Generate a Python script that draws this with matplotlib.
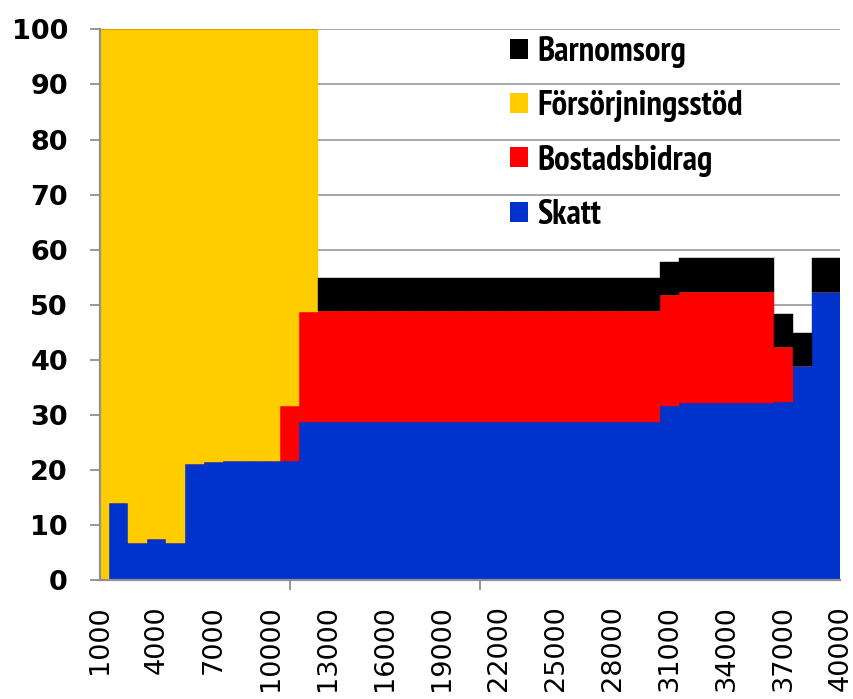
"""
Marginaleffekter: stapeldiagram med skatt, bostadsbidrag, försörjningsstöd och barnomsorg.
"""

import matplotlib
matplotlib.use("Agg")
import matplotlib.pyplot as plt
from matplotlib import font_manager
from matplotlib.patches import Patch

# Inkomst (kr/mån), en kategori per 1000 kr
income = list(range(1000, 40001, 1000))

skatt = ([0, 14.1, 6.7, 7.5, 6.7, 21.0, 21.5, 21.6, 21.7, 21.6, 21.7, 28.7]
         + [28.7] * 18 + [31.6] + [32.2] * 5 + [32.4, 38.9, 52.3, 52.3])
bostadsbidrag = ([0] * 10 + [10.0, 20.0] + [20.1] * 18 + [20.1] + [20.1] * 5
                 + [9.9, 0, 0, 0])
forsorjningsstod = ([100, 85.9, 93.3, 92.5, 93.3, 79.0, 78.5, 78.4, 78.3, 78.4, 68.3, 51.3]
                    + [0] * 28)
barnomsorg = [0] * 12 + [6.1] * 18 + [6.0] + [6.1] * 5 + [6.1, 6.0, 6.1, 6.1]

x_labels = list(range(1000, 40001, 3000))
x_ticks = [1000, 11000, 21000, 31000]

colors = {
    "Skatt": "#0033cc",
    "Bostadsbidrag": "#ff0000",
    "Försörjningsstöd": "#ffcc00",
    "Barnomsorg": "#000000",
}


def legend_font():
    # a narrow bold face if one is installed, otherwise plain bold
    for f in font_manager.fontManager.ttflist:
        if "Narrow" in f.name and f.weight in ("bold", 700):
            return {"fname": f.fname, "size": 25}, 0.94
    return {"family": "Liberation Sans", "weight": "bold", "size": 18.5}, 1.15


def main():
    fig = plt.figure(figsize=(8.54, 6.99), dpi=100)
    ax = fig.add_axes([0.117, 0.170, 0.867, 0.788])

    series = [
        ("Skatt", skatt),
        ("Bostadsbidrag", bostadsbidrag),
        ("Försörjningsstöd", forsorjningsstod),
        ("Barnomsorg", barnomsorg),
    ]
    bottom = [0.0] * len(income)
    for name, vals in series:
        ax.bar(income, vals, width=1000, bottom=bottom, color=colors[name],
               edgecolor=colors[name], linewidth=0.3, zorder=2)
        bottom = [b + v for b, v in zip(bottom, vals)]

    ax.set_xlim(1000, 40000)
    ax.set_ylim(0, 100)
    ax.set_yticks(range(0, 101, 10))
    ax.yaxis.grid(True, color="#a0a0a0", linewidth=1.3, zorder=0)
    ax.set_axisbelow(True)

    ax.set_xticks(x_labels)
    ax.set_xticklabels([str(v) for v in x_labels], rotation=90,
                       fontsize=19.5, family="DejaVu Sans")
    ax.set_xticks(x_ticks, minor=True)
    ax.tick_params(axis="x", which="major", length=0, pad=18)
    ax.tick_params(axis="x", which="minor", length=7, width=1.3, color="#909090")
    ax.tick_params(axis="y", length=7, width=1.3, color="#909090", pad=16)
    for lab in ax.get_yticklabels():
        lab.set_fontsize(19.5)
        lab.set_fontweight("bold")

    for side in ("top", "right"):
        ax.spines[side].set_visible(False)
    for side in ("left", "bottom"):
        ax.spines[side].set_color("#909090")
        ax.spines[side].set_linewidth(1.6)

    handles = [Patch(facecolor=colors[n], edgecolor="none", label=n)
               for n in ["Barnomsorg", "Försörjningsstöd", "Bostadsbidrag", "Skatt"]]
    font, row_h = legend_font()
    prop = font_manager.FontProperties(**font)
    fs = prop.get_size_in_points() * 100 / 72
    ax.legend(handles=handles, loc="upper left", bbox_to_anchor=(0.554, 0.988),
              frameon=False, borderpad=0, borderaxespad=0,
              handlelength=18 / fs, handleheight=18 / fs, handletextpad=9 / fs,
              labelspacing=(55 - row_h * fs) / fs, prop=prop)

    fig.savefig("out.png", dpi=100)


if __name__ == "__main__":
    main()
